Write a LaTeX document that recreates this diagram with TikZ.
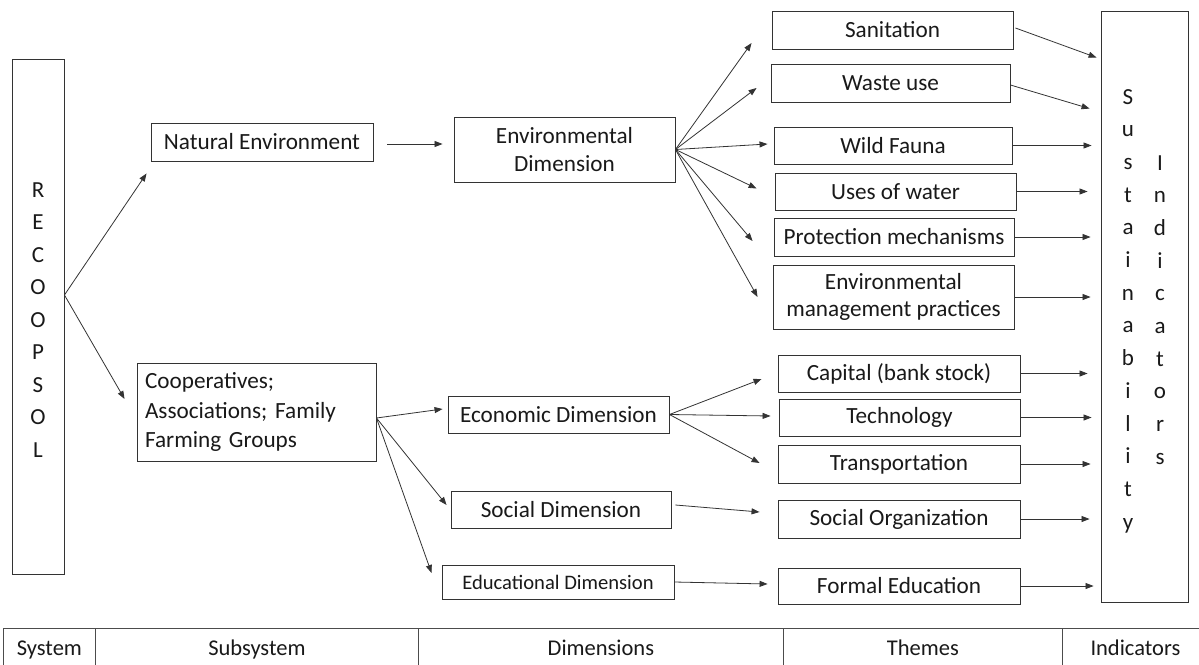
\documentclass[tikz,border=0pt]{standalone}
\usepackage{fontspec}
\setmainfont{Carlito}
\usetikzlibrary{arrows.meta,calc}
\begin{document}
\begin{tikzpicture}[x=1pt,y=-1pt,
  box/.style={draw=black!80,line width=0.9pt,inner sep=0pt,align=center,text=black!90,font=\fontsize{23.2}{27.5}\selectfont},
  arr/.style={draw=black!80,line width=0.8pt,-{Triangle[length=8pt,width=6pt]}},
  lett/.style={font=\fontsize{23}{27}\selectfont,text=black!90,inner sep=0pt,anchor=base},
  cell/.style={draw=black!70,line width=0.8pt,inner sep=0pt,anchor=north west,minimum height=40,text height=17pt,text depth=3pt,text=black!90,font=\fontsize{22.5}{25}\selectfont}
]
\useasboundingbox (0,0) rectangle (1199,664);
\clip (0,0) rectangle (1199,664);

% system
\node[box,minimum width=52,minimum height=515] (reco) at (38,316.5) {};
\foreach \c [count=\i from 0] in {R,E,C,O,O,P,S,O,L}
  \node[lett] (re\i) at (38,{197+32.5*\i}) {\c};

% subsystems
\node[box,minimum width=222,minimum height=38] (nat) at (262,142) {Natural Environment};
\node[box,minimum height=98,inner xsep=8pt,text width=223pt,align=left,font=\fontsize{23.2}{29.5}\selectfont] (coop) at (256.5,412) {Cooperatives;\\Associations; Family\\Farming Groups};

% dimensions
\node[box,minimum width=221,minimum height=65] (env) at (564.5,149.5) {Environmental\\Dimension};
\node[box,minimum width=221,minimum height=37] (econ) at (558.5,414.5) {Economic Dimension};
\node[box,minimum width=220,minimum height=37] (social) at (561,509.5) {Social Dimension};
\node[box,minimum width=232,minimum height=34,font=\fontsize{20.6}{24}\selectfont] (edu) at (558,582) {Educational Dimension};

% themes
\node[box,minimum width=241,minimum height=38] (san) at (892.5,30) {Sanitation};
\node[box,minimum width=239,minimum height=38] (waste) at (890.5,83) {Waste use};
\node[box,minimum width=238,minimum height=37] (wild) at (893,145.5) {Wild Fauna};
\node[box,minimum width=241,minimum height=37] (uses) at (895.5,191.5) {Uses of water};
\node[box,minimum width=240,minimum height=38] (prot) at (894,237) {Protection mechanisms};
\node[box,minimum width=241,minimum height=64] (emp) at (893.5,297) {Environmental\\management practices};
\node[box,minimum width=242,minimum height=37] (cap) at (899,373.5) {Capital (bank stock)};
\node[box,minimum width=241,minimum height=37] (tech) at (899.5,417.5) {Technology};
\node[box,minimum width=242,minimum height=38] (trans) at (899,464) {Transportation};
\node[box,minimum width=242,minimum height=38] (socorg) at (899,519) {Social Organization};
\node[box,minimum width=242,minimum height=36] (formed) at (899,586) {Formal Education};

% indicators
\node[box,minimum width=87,minimum height=591] (sust) at (1144.5,306.5) {};
\foreach \c [count=\i from 0] in {S,u,s,t,a,i,n,a,b,i,l,i,t,y}
  \node[lett] (su\i) at (1128,{104+32.7*\i}) {\c};
\foreach \c [count=\i from 0] in {I,n,d,i,c,a,t,o,r,s}
  \node[lett] (in\i) at (1160,{170+32.7*\i}) {\c};

% connectors: system -> subsystems
\draw[arr] ($(reco.east)+(0,-21.5)$) -- ($(nat.south west)+(-4,12)$);
\draw[arr] ($(reco.east)+(0,-21.5)$) -- ($(coop.west)+(-12,-13)$);

% subsystem -> dimensions
\draw[arr] ($(nat.east)+(14,2)$) -- ($(env.west)+(-11,-5.5)$);
\draw[arr] ($(coop.east)+(0,6)$) -- ($(econ.west)+(-5,-5.5)$);
\draw[arr] ($(coop.east)+(0,6)$) -- ($(social.west)+(-4,-4.5)$);
\draw[arr] ($(coop.east)+(0,6)$) -- ($(edu.west)+(-10,-9)$);

% dimensions -> themes
\draw[arr] (env.east) -- ($(san.west)+(-20,13)$);
\draw[arr] (env.east) -- ($(waste.west)+(-14,5)$);
\draw[arr] (env.east) -- ($(wild.west)+(-6,-1.5)$);
\draw[arr] (env.east) -- ($(uses.west)+(-18,-3)$);
\draw[arr] (env.east) -- ($(prot.west)+(-21,4)$);
\draw[arr] (env.east) -- ($(emp.west)+(-15,0)$);
\draw[arr] (econ.east) -- ($(cap.west)+(-16,5.5)$);
\draw[arr] (econ.east) -- ($(tech.west)+(-8,-1.5)$);
\draw[arr] (econ.east) -- ($(trans.west)+(-18,-1)$);
\draw[arr] ($(social.east)+(4,-4.5)$) -- ($(socorg.west)+(-18,-7)$);
\draw[arr] (edu.east) -- ($(formed.west)+(-10,-2)$);

% themes -> indicators
\draw[arr] ($(san.east)+(2,-2)$) -- ($(sust.north west)+(-4,47)$);
\draw[arr] ($(waste.east)+(0,2)$) -- ($(sust.north west)+(-11,98)$);
\draw[arr,shorten >=9pt] (wild.east) -- (wild.east -| sust.west);
\draw[arr,shorten >=13pt] (uses.east) -- (uses.east -| sust.west);
\draw[arr,shorten >=10pt] (prot.east) -- (prot.east -| sust.west);
\draw[arr,shorten >=10pt] (emp.east) -- (emp.east -| sust.west);
\draw[arr,shorten >=13pt] (cap.east) -- (cap.east -| sust.west);
\draw[arr,shorten >=9pt] (tech.east) -- (tech.east -| sust.west);
\draw[arr,shorten >=10pt] (trans.east) -- (trans.east -| sust.west);
\draw[arr,shorten >=11pt] (socorg.east) -- (socorg.east -| sust.west);
\draw[arr,shorten >=7pt] (formed.east) -- (formed.east -| sust.west);

% legend table
\node[cell,minimum width=92] (t1) at (3,628) {System};
\node[cell,minimum width=323] (t2) at (95,628) {Subsystem};
\node[cell,minimum width=365] (t3) at (418,628) {Dimensions};
\node[cell,minimum width=279] (t4) at (783,628) {Themes};
\node[cell,minimum width=146] (t5) at (1062,628) {Indicators};
\end{tikzpicture}
\end{document}
